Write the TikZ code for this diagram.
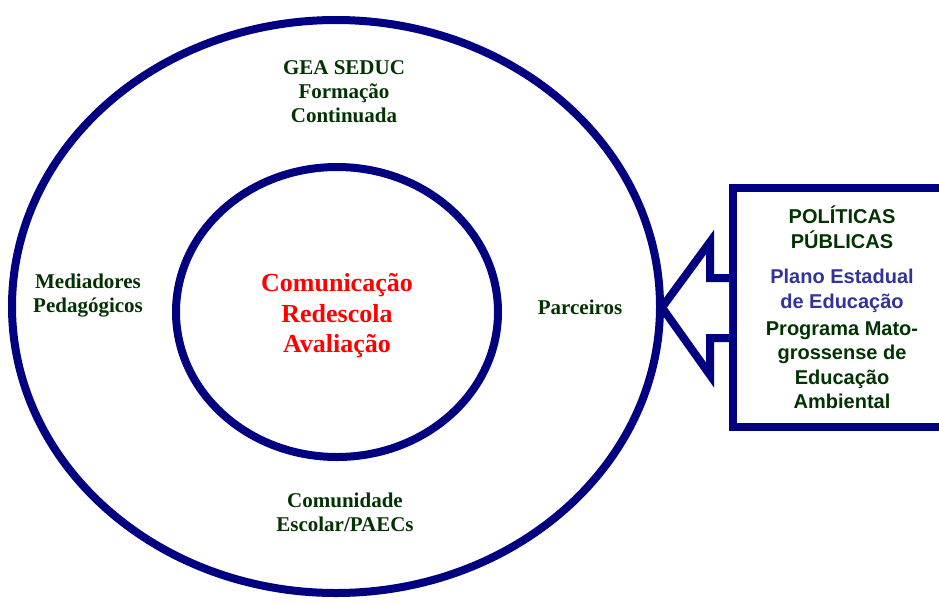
\documentclass[tikz,border=0pt]{standalone}
\usepackage{fontspec}
\setmainfont{Liberation Serif}
\newfontfamily\arialfam{Liberation Sans}
\usetikzlibrary{shapes.geometric,calc}
\definecolor{azulMarinho}{HTML}{000080}
\definecolor{verdeEscuro}{HTML}{003300}
\definecolor{azulTexto}{HTML}{333399}
\definecolor{vermelho}{HTML}{FF0000}

\begin{document}
\begin{tikzpicture}[x=1pt, y=-1pt,
  anel/.style={draw=azulMarinho,line width=8pt,ellipse,inner sep=0pt},
  rotulo/.style={text=verdeEscuro,align=center,font=\fontsize{21}{24}\selectfont\bfseries},
  caixaTxt/.style={align=center,font=\arialfam\fontsize{20}{24.5}\selectfont\bfseries}]
\useasboundingbox (0,0) rectangle (939,603);
\node[anel,minimum width=648pt,minimum height=573pt] (ext) at (336,306.5) {};
\node[anel,minimum width=322pt,minimum height=290pt] (int) at (337,312) {};
\node[draw=azulMarinho,line width=8pt,minimum width=218pt,minimum height=239pt] (cx) at (842,307.5) {};
% seta apontando para o anel externo
\draw[azulMarinho,line width=8pt,fill=white,line join=miter]
  ($(cx.west)+(0,-29.5)$) -- ++(-19,0) -- ++(0,-36) -- ($(cx.west)+(-67,0)$)
  -- ++(48,67.5) -- ++(0,-37) -- ($(cx.west)+(0,30.5)$);
\node[rotulo] (gea) at (344,92) {GEA SEDUC\\Formação\\Continuada};
\node[rotulo] (med) at (88,296) {Mediadores\\Pedagógicos};
\node[rotulo] (par) at (580,307) {Parceiros};
\node[rotulo] (com) at (345,512) {Comunidade\\Escolar/PAECs};
\node[text=vermelho,align=center,font=\fontsize{26}{30.5}\selectfont\bfseries] (cen) at (337,316) {Comunicação\\Redescola\\Avaliação};
\node[caixaTxt,text=verdeEscuro] (pol) at (842,227) {POLÍTICAS\\PÚBLICAS};
\node[caixaTxt,text=azulTexto] (pla) at (842,291) {Plano Estadual\\de Educação};
\node[caixaTxt,text=verdeEscuro] (pro) at (842,365) {Programa Mato-\\grossense de\\Educação\\Ambiental};
\end{tikzpicture}
\end{document}
